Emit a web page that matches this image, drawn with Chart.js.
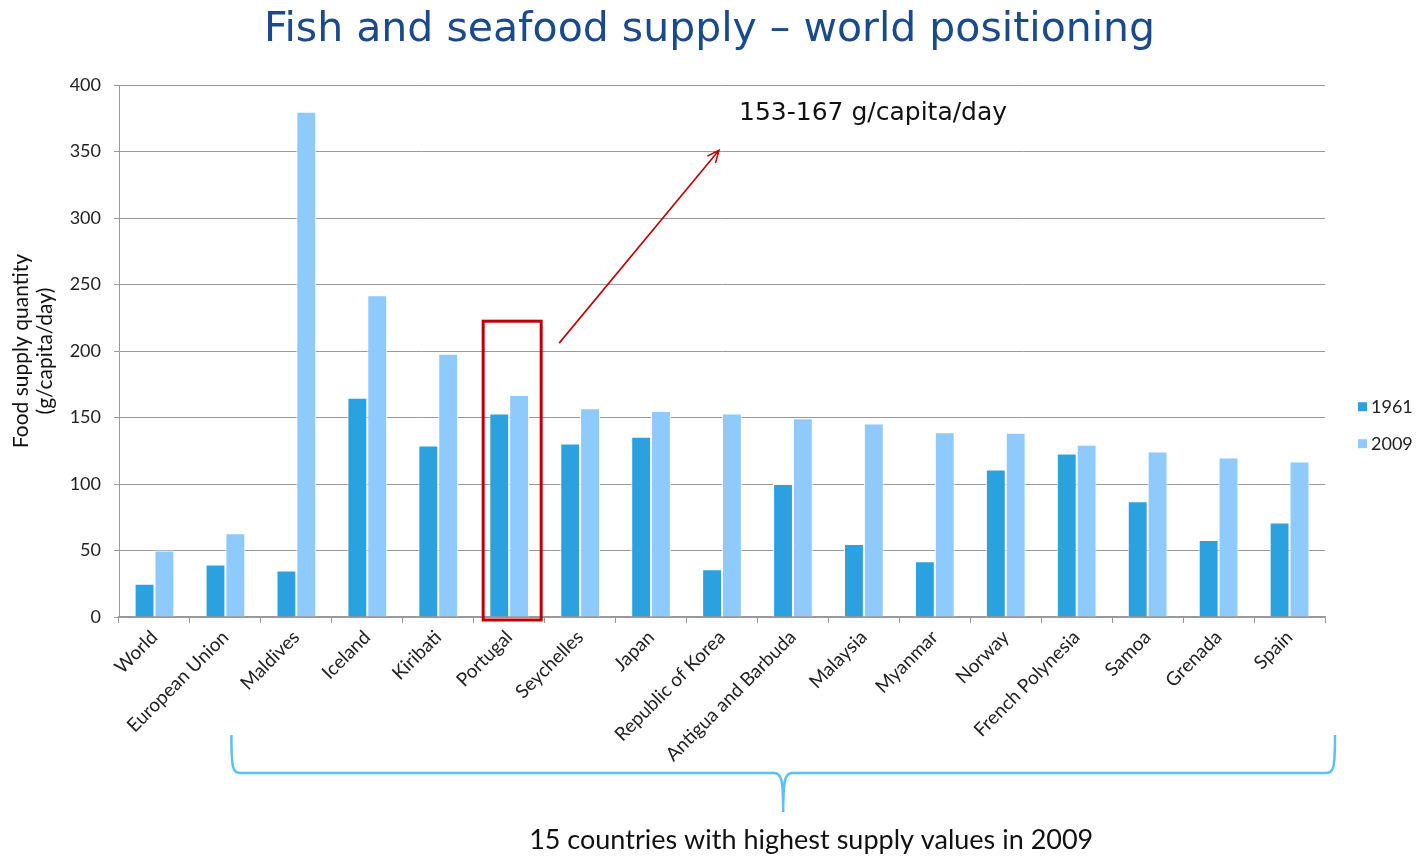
<!DOCTYPE html>
<html>
<head>
<meta charset="utf-8">
<title>Fish and seafood supply – world positioning</title>
<script src="https://cdn.jsdelivr.net/npm/chart.js@4/dist/chart.umd.min.js"></script>
<style>
  html, body { margin: 0; padding: 0; background: #ffffff; }
  #wrap { width: 1419px; height: 857px; position: relative; }
</style>
</head>
<body>
<div id="wrap"><canvas id="chart" width="1419" height="857"></canvas></div>
<script>
// Fish and seafood food supply quantity, g/capita/day
const categories = [
  'World', 'European Union', 'Maldives', 'Iceland', 'Kiribati', 'Portugal',
  'Seychelles', 'Japan', 'Republic of Korea', 'Antigua and Barbuda', 'Malaysia',
  'Myanmar', 'Norway', 'French Polynesia', 'Samoa', 'Grenada', 'Spain'
];
const seriesNames = ['1961', '2009'];
const supply1961 = [25, 39.5, 35, 165, 129, 153, 130.5, 135.5, 36, 100, 55, 42, 111, 123, 87, 58, 71];
const supply2009 = [50, 63, 380, 242, 198, 167, 157, 155, 153, 149.5, 145.5, 139, 138.5, 129.5, 124.5, 120, 117];
const yTickValues = [0, 50, 100, 150, 200, 250, 300, 350, 400];

const titleText = 'Fish and seafood supply – world positioning';
const yAxisTitle = ['Food supply quantity', '(g/capita/day)'];
const highlightIndex = 5;            // Portugal
const highlightText = '153-167 g/capita/day';
const braceText = '15 countries with highest supply values in 2009';

const colors = ['#2CA1E0', '#8ECAFC'];

// Callouts: highlight box, arrow, note, brace under the top-15 group, legend
const decorations = {
  id: 'decorations',
  afterDraw(chart) {
    const { ctx, chartArea } = chart;
    const x = chart.scales.x, y = chart.scales.y;
    const base = y.getPixelForValue(0);
    ctx.save();

    // highlight box around the Portugal pair
    const xc = x.getPixelForValue(highlightIndex);
    ctx.strokeStyle = '#C00000';
    ctx.lineWidth = 3;
    ctx.strokeRect(xc - 26, y.getPixelForValue(222.5), 58, base + 3 - y.getPixelForValue(222.5));

    // arrow toward the note
    const ax0 = xc + 50, ay0 = y.getPixelForValue(206);
    const ax1 = x.getPixelForValue(8) - 3, ay1 = y.getPixelForValue(351);
    ctx.lineWidth = 1.6;
    ctx.beginPath();
    ctx.moveTo(ax0, ay0);
    ctx.lineTo(ax1, ay1);
    const ang = Math.atan2(ay1 - ay0, ax1 - ax0);
    const hl = 13, hw = 0.42;
    ctx.moveTo(ax1 - hl * Math.cos(ang - hw), ay1 - hl * Math.sin(ang - hw));
    ctx.lineTo(ax1, ay1);
    ctx.lineTo(ax1 - hl * Math.cos(ang + hw), ay1 - hl * Math.sin(ang + hw));
    ctx.stroke();

    // note text
    ctx.fillStyle = '#111111';
    ctx.font = '25px "DejaVu Sans"';
    ctx.textAlign = 'left';
    ctx.textBaseline = 'middle';
    ctx.fillText(highlightText, x.getPixelForValue(8) + 17, y.getPixelForValue(379));

    // brace
    const bl = x.getPixelForValue(1) + 6;
    const br = chartArea.right + 10;
    const bm = (bl + br) / 2;
    const yTop = base + 118, yMid = base + 156, yTip = base + 195;
    ctx.strokeStyle = '#5CC0F6';
    ctx.lineWidth = 2.5;
    ctx.beginPath();
    ctx.moveTo(bl, yTop);
    ctx.bezierCurveTo(bl, yMid - 4, bl + 1, yMid, bl + 10, yMid);
    ctx.lineTo(bm - 9, yMid);
    ctx.bezierCurveTo(bm - 2, yMid, bm, yMid + 6, bm, yTip);
    ctx.bezierCurveTo(bm, yMid + 6, bm + 2, yMid, bm + 9, yMid);
    ctx.lineTo(br - 10, yMid);
    ctx.bezierCurveTo(br - 1, yMid, br, yMid - 4, br, yTop);
    ctx.stroke();

    ctx.fillStyle = '#111111';
    ctx.font = '27px Lato';
    ctx.textAlign = 'center';
    ctx.fillText(braceText, bm + 28, base + 223);

    // legend
    ctx.font = '18px Lato';
    ctx.textAlign = 'left';
    chart.data.datasets.forEach((ds, i) => {
      const ly = chartArea.top + 322 + i * 37;
      ctx.fillStyle = ds.backgroundColor;
      ctx.fillRect(chartArea.right + 33, ly - 5, 9, 9);
      ctx.fillStyle = '#222222';
      ctx.fillText(ds.label, chartArea.right + 46, ly);
    });
    ctx.restore();
  }
};

new Chart(document.getElementById('chart'), {
  type: 'bar',
  data: {
    labels: categories,
    datasets: [
      { label: seriesNames[0], data: supply1961, backgroundColor: colors[0] },
      { label: seriesNames[1], data: supply2009, backgroundColor: colors[1] }
    ]
  },
  options: {
    responsive: false,
    animation: false,
    layout: { padding: 0 },
    datasets: {
      bar: {
        borderColor: '#ffffff',
        borderWidth: 1,
        categoryPercentage: 0.56,
        barPercentage: 1
      }
    },
    plugins: {
      legend: { display: false },
      tooltip: { enabled: false },
      title: {
        display: true,
        text: titleText,
        color: '#1A4A8E',
        font: { family: '"DejaVu Sans"', size: 41, weight: 'normal', lineHeight: 1.2 },
        padding: { top: 6, bottom: 30 }
      }
    },
    scales: {
      x: {
        afterFit(scale) { scale.height = 240; },
        grid: {
          offset: true,
          drawOnChartArea: false,
          drawTicks: true,
          tickLength: 6,
          color: '#999999'
        },
        border: { display: true, color: '#999999', width: 1.5 },
        ticks: {
          autoSkip: false,
          minRotation: 45,
          maxRotation: 45,
          padding: 3,
          color: '#222222',
          font: { family: 'Lato', size: 19 }
        }
      },
      y: {
        min: 0,
        max: 400,
        afterFit(scale) { scale.width = 119; },
        afterBuildTicks(scale) { scale.ticks = yTickValues.map(v => ({ value: v })); },
        grid: {
          color: '#9a9a9a',
          lineWidth: 1,
          drawTicks: true,
          tickLength: 5
        },
        border: { display: true, color: '#999999', width: 1 },
        ticks: {
          padding: 13,
          color: '#222222',
          font: { family: 'Lato', size: 18 }
        },
        title: {
          display: true,
          text: yAxisTitle,
          color: '#111111',
          font: { family: 'Lato', size: 21, lineHeight: 1.15 },
          padding: { top: 9, bottom: 0 }
        }
      },
      // empty right-hand band that holds the legend
      legendBand: {
        type: 'linear',
        position: 'right',
        display: true,
        afterFit(scale) { scale.width = 94; },
        grid: { display: false },
        border: { display: false },
        ticks: { display: false }
      }
    }
  },
  plugins: [decorations]
});
</script>
</body>
</html>
